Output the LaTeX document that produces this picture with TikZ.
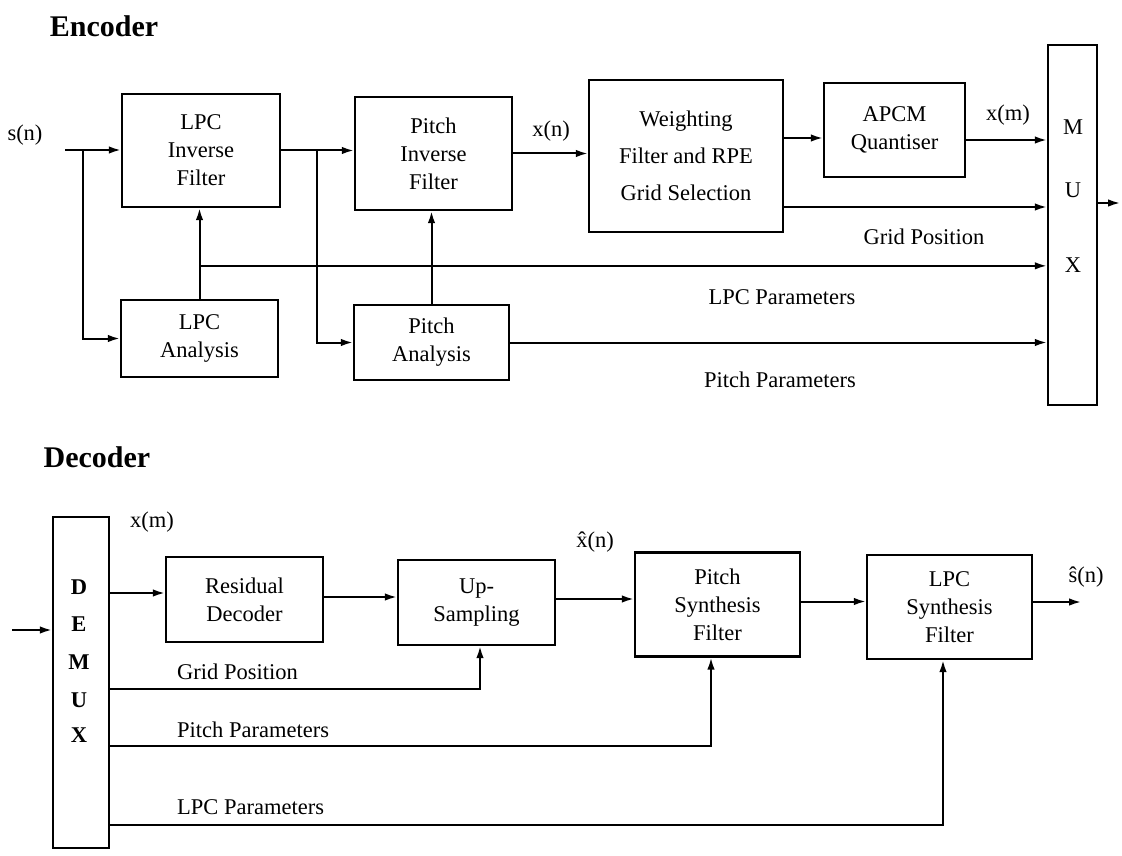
\documentclass[tikz,border=0pt]{standalone}
\usepackage{fontspec}
\setmainfont{Liberation Serif}
\usetikzlibrary{arrows.meta}
\begin{document}
\begin{tikzpicture}[x=1pt,y=-1pt,
  blk/.style={draw,line width=2.3pt,align=center,inner sep=0pt,font=\fontsize{22.5}{28}\selectfont},
  lbl/.style={font=\fontsize{22.5}{26}\selectfont,inner sep=0pt},
  mxl/.style={font=\fontsize{22.5}{26}\selectfont,inner sep=0pt},
  dml/.style={font=\fontsize{22.5}{26}\selectfont\bfseries,inner sep=0pt},
  arr/.style={line width=2pt,-{Latex[length=12pt,width=7.5pt]}},
  ttl/.style={font=\fontsize{30}{32}\selectfont\bfseries,inner sep=0pt}]
\useasboundingbox[fill=white] (0,0) rectangle (1122,856);
% ---------------- Encoder ----------------
\node[ttl] (enc) at (104,26) {Encoder};
\node[blk,minimum width=158pt,minimum height=113pt] (lpcinv) at (201,150.5) {LPC\\Inverse\\Filter};
\node[blk,minimum width=157pt,minimum height=113pt] (pitchinv) at (433.5,153.5) {Pitch\\Inverse\\Filter};
\node[blk,minimum width=157pt,minimum height=77pt] (lpcana) at (199.5,338.5) {LPC\\Analysis};
\node[blk,minimum width=155pt,minimum height=75pt] (pitchana) at (431.5,342.5) {Pitch\\Analysis};
\node[blk,minimum width=194pt,minimum height=152pt,font=\fontsize{22.5}{37}\selectfont] (weight) at (686,156) {Weighting\\Filter and RPE\\Grid Selection};
\node[blk,minimum width=141pt,minimum height=94pt] (apcm) at (894.5,130) {APCM\\Quantiser};
\node[draw,line width=2.3pt,minimum width=49pt,minimum height=360pt,inner sep=0pt] (mux) at (1072.5,225) {};
\node[mxl] (mm) at (1073,127) {M};
\node[mxl] (mu) at (1073,190) {U};
\node[mxl] (mx) at (1073,265) {X};

\coordinate (sin) at (65,150);
\coordinate (b1) at (83,150);
\draw[arr] (sin) -- (sin -| lpcinv.west);
\draw[arr] (b1) |- (lpcana.west);
\path (lpcinv.east) ++(36,0) coordinate (b2);
\draw[arr] (lpcinv.east) -- (lpcinv.east -| pitchinv.west);
\draw[arr] (b2) |- (pitchana.west);
\draw[arr] (lpcana.north) -- (lpcana.north |- lpcinv.south);
\path (lpcana.north) ++(0,-33) coordinate (b3);
\draw[arr] (b3) -- (b3 -| mux.west);
\draw[arr] (pitchana.north) -- (pitchana.north |- pitchinv.south);
\draw[arr] (pitchinv.east) -- (pitchinv.east -| weight.west);
\draw[arr] ([yshift=18pt]weight.east) -- ([yshift=18pt]weight.east -| apcm.west);
\draw[arr] ([yshift=-10pt]apcm.east) -- ([yshift=-10pt]apcm.east -| mux.west);
\draw[arr] ([yshift=-51pt]weight.east) -- ([yshift=-51pt]weight.east -| mux.west);
\draw[arr] (pitchana.east) -- (pitchana.east -| mux.west);
\path ([yshift=22pt]mux.east) ++(22,0) coordinate (mout);
\draw[arr] ([yshift=22pt]mux.east) -- (mout);

\node[lbl] (lsn) at (25,135) {s(n)};
\node[lbl] (lxn) at (551,131) {x(n)};
\node[lbl] (lxm) at (1008,115) {x(m)};
\node[lbl] (lgp) at (924,237) {Grid Position};
\node[lbl] (llp) at (782,297) {LPC Parameters};
\node[lbl] (lpp) at (780,380) {Pitch Parameters};

% ---------------- Decoder ----------------
\node[ttl] (dec) at (97,457) {Decoder};
\node[draw,line width=2.3pt,minimum width=56pt,minimum height=331pt,inner sep=0pt] (demux) at (81,682.5) {};
\node[dml] (dd) at (79,587) {D};
\node[dml] (de) at (79,624) {E};
\node[dml] (dm) at (79,662) {M};
\node[dml] (du) at (79,700) {U};
\node[dml] (dx) at (79,735) {X};
\node[blk,minimum width=157pt,minimum height=85pt] (resdec) at (244.5,599.5) {Residual\\Decoder};
\node[blk,minimum width=157pt,minimum height=85pt] (upsamp) at (476.5,602.5) {Up-\\Sampling};
\node[blk,minimum width=165pt,minimum height=104pt] (pitchsyn) at (717.5,604.5) {Pitch\\Synthesis\\Filter};
\node[blk,minimum width=165pt,minimum height=104pt] (lpcsyn) at (949.5,607) {LPC\\Synthesis\\Filter};

\coordinate (din) at (12,630);
\draw[arr] (din) -- (din -| demux.west);
\draw[arr] ([yshift=6.5pt]resdec.west -| demux.east) -- ([yshift=6.5pt]resdec.west);
\draw[arr] ([yshift=2.5pt]resdec.east) -- ([yshift=2.5pt]resdec.east -| upsamp.west);
\draw[arr] ([yshift=3.5pt]upsamp.east) -- ([yshift=3.5pt]upsamp.east -| pitchsyn.west);
\draw[arr] ([yshift=3pt]pitchsyn.east) -- ([yshift=3pt]pitchsyn.east -| lpcsyn.west);
\path ([yshift=5pt]lpcsyn.east) ++(48,0) coordinate (dout);
\draw[arr] ([yshift=5pt]lpcsyn.east) -- (dout);
\path (demux.east) ++(0,6.5) coordinate (g1);
\path (demux.east) ++(0,63.5) coordinate (p1);
\path (demux.east) ++(0,142.5) coordinate (l1);
\draw[arr] (g1) -| ([xshift=3.5pt]upsamp.south);
\draw[arr] (p1) -| ([xshift=-6.5pt]pitchsyn.south);
\draw[arr] (l1) -| ([xshift=-6.5pt]lpcsyn.south);

\node[lbl] (dxm) at (152,522) {x(m)};
\node[lbl,anchor=west] (dgp) at (177,672) {Grid Position};
\node[lbl,anchor=west] (dpp) at (177,730) {Pitch Parameters};
\node[lbl,anchor=west] (dlp) at (177,807) {LPC Parameters};
\node[lbl] (dxh) at (595,542) {\^{x}(n)};
\node[lbl] (dsh) at (1086,577) {\^{s}(n)};
\end{tikzpicture}
\end{document}
